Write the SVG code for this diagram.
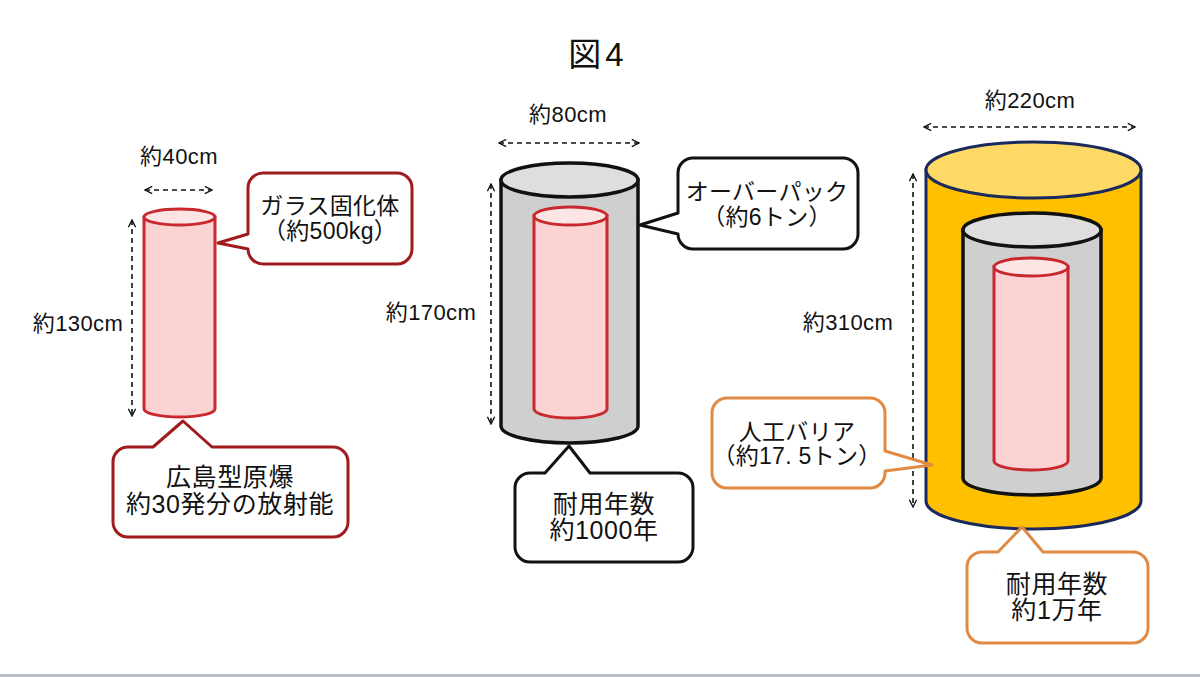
<svg xmlns="http://www.w3.org/2000/svg" width="1200" height="677" viewBox="0 0 1200 677">
<style>
text{font-family:"Liberation Sans","Noto Sans CJK JP",sans-serif;fill:#111;text-anchor:middle}
.dim{font-size:22px;letter-spacing:0.4px}
.lbl{font-size:23px;letter-spacing:0.3px}
.big{font-size:25px;letter-spacing:0.6px}
.arr{fill:none;stroke:#111;stroke-width:1.6;stroke-dasharray:5 4;marker-start:url(#ah);marker-end:url(#ah)}
.glass{fill:#fbd3d3;stroke:#c8282e;stroke-width:3}
.glasstop{fill:#fde5e5;stroke:#c8282e;stroke-width:3}
.op{fill:#cfcfcf;stroke:#111;stroke-width:3.5}
.optop{fill:#dedede;stroke:#111;stroke-width:3.5}
.bf{fill:#ffc000;stroke:#1b2a5c;stroke-width:3}
.bftop{fill:#ffd966;stroke:#1b2a5c;stroke-width:3}
.cr{fill:#fff;stroke:#a01b1e;stroke-width:3;stroke-linejoin:round}
.ck{fill:#fff;stroke:#111;stroke-width:3;stroke-linejoin:round}
.co{fill:#fff;stroke:#df8a45;stroke-width:3;stroke-linejoin:round}
</style>
<defs>
<marker id="ah" viewBox="0 0 10 10" refX="9" refY="5" markerWidth="9" markerHeight="9" markerUnits="userSpaceOnUse" orient="auto-start-reverse">
<path d="M1,1 L9,5 L1,9" fill="none" stroke="#111" stroke-width="1.5"/>
</marker>
</defs>
<rect width="1200" height="677" fill="#fff"/>
<rect x="0" y="674" width="1200" height="3" fill="#b9bdc5"/>
<text id="title" x="598" y="66" style="font-size:33px;letter-spacing:4px">図4</text>

<g id="connectors">
<path class="arr" d="M145,190 H212"/>
<path class="arr" d="M132,220 V416"/>
<path class="arr" d="M499,143 H639"/>
<path class="arr" d="M491,184 V424"/>
<path class="arr" d="M924,127 H1135"/>
<path class="arr" d="M913,174 V507"/>
</g>

<g id="dims">
<text class="dim" x="179" y="164">約40cm</text>
<text class="dim" x="78" y="331">約130cm</text>
<text class="dim" x="568" y="122">約80cm</text>
<text class="dim" x="431" y="320">約170cm</text>
<text class="dim" x="1030" y="108">約220cm</text>
<text class="dim" x="848" y="330">約310cm</text>
</g>

<g id="glass-cylinder">
<path class="glass" d="M144,217 V409 A35.5,8 0 0 0 215,409 V217 Z"/>
<ellipse class="glasstop" cx="179.5" cy="217" rx="35.5" ry="8"/>
</g>

<g id="overpack-cylinder">
<path class="op" d="M501,180 V426 A68.5,17 0 0 0 638,426 V180 Z"/>
<ellipse class="optop" cx="569.5" cy="180" rx="68.5" ry="17"/>
<path class="glass" d="M534,216 V409 A36.5,9 0 0 0 607,409 V216 Z"/>
<ellipse class="glasstop" cx="570.5" cy="216" rx="36.5" ry="9"/>
</g>

<g id="barrier-cylinder">
<path class="bf" d="M926,170 V501 A107.5,28 0 0 0 1141,501 V170 Z"/>
<ellipse class="bftop" cx="1033.5" cy="170" rx="107.5" ry="28"/>
<path class="op" d="M963,230 V478 A69,17 0 0 0 1101,478 V230 Z"/>
<ellipse class="optop" cx="1032" cy="230" rx="69" ry="17"/>
<path class="glass" d="M994,267 V461 A37,9 0 0 0 1068,461 V267 Z"/>
<ellipse class="glasstop" cx="1031" cy="267" rx="37" ry="9"/>
</g>

<g id="callout-glass">
<path class="cr" d="M263,173 H397 A15,15 0 0 1 412,188 V249 A15,15 0 0 1 397,264 H263 A15,15 0 0 1 248,249 L218,243 L248,234 V188 A15,15 0 0 1 263,173 Z"/>
<text class="lbl" x="330" y="214">ガラス固化体</text>
<text class="lbl" x="330" y="239">（約500kg）</text>
</g>

<g id="callout-hiroshima">
<path class="cr" d="M128,447 H153 L183,421 L212,447 H333 A15,15 0 0 1 348,462 V522 A15,15 0 0 1 333,537 H128 A15,15 0 0 1 113,522 V462 A15,15 0 0 1 128,447 Z"/>
<text class="big" x="230" y="486">広島型原爆</text>
<text class="big" x="230" y="513">約30発分の放射能</text>
</g>

<g id="callout-overpack">
<path class="ck" d="M693,158 H843 A15,15 0 0 1 858,173 V234 A15,15 0 0 1 843,249 H693 A15,15 0 0 1 678,234 L640,225 L678,213 V173 A15,15 0 0 1 693,158 Z"/>
<text class="lbl" x="767" y="200">オーバーパック</text>
<text class="lbl" x="767" y="225">（約6トン）</text>
</g>

<g id="callout-1000">
<path class="ck" d="M530,473 H545 L569,446 L590,473 H678 A15,15 0 0 1 693,488 V547 A15,15 0 0 1 678,562 H530 A15,15 0 0 1 515,547 V488 A15,15 0 0 1 530,473 Z"/>
<text class="big" x="604" y="513">耐用年数</text>
<text class="big" x="604" y="539">約1000年</text>
</g>

<g id="callout-barrier">
<path class="co" d="M727,398 H870 A15,15 0 0 1 885,413 V451 L932,465 L885,471 V473 A15,15 0 0 1 870,488 H727 A15,15 0 0 1 712,473 V413 A15,15 0 0 1 727,398 Z"/>
<text class="lbl" x="797" y="440">人工バリア</text>
<text class="lbl" x="797" y="464">（約17. 5トン）</text>
</g>

<g id="callout-10000">
<path class="co" d="M982,552 H998 L1022,527 L1043,552 H1133 A15,15 0 0 1 1148,567 V628 A15,15 0 0 1 1133,643 H982 A15,15 0 0 1 967,628 V567 A15,15 0 0 1 982,552 Z"/>
<text class="big" x="1057" y="593">耐用年数</text>
<text class="big" x="1057" y="619">約1万年</text>
</g>
</svg>
